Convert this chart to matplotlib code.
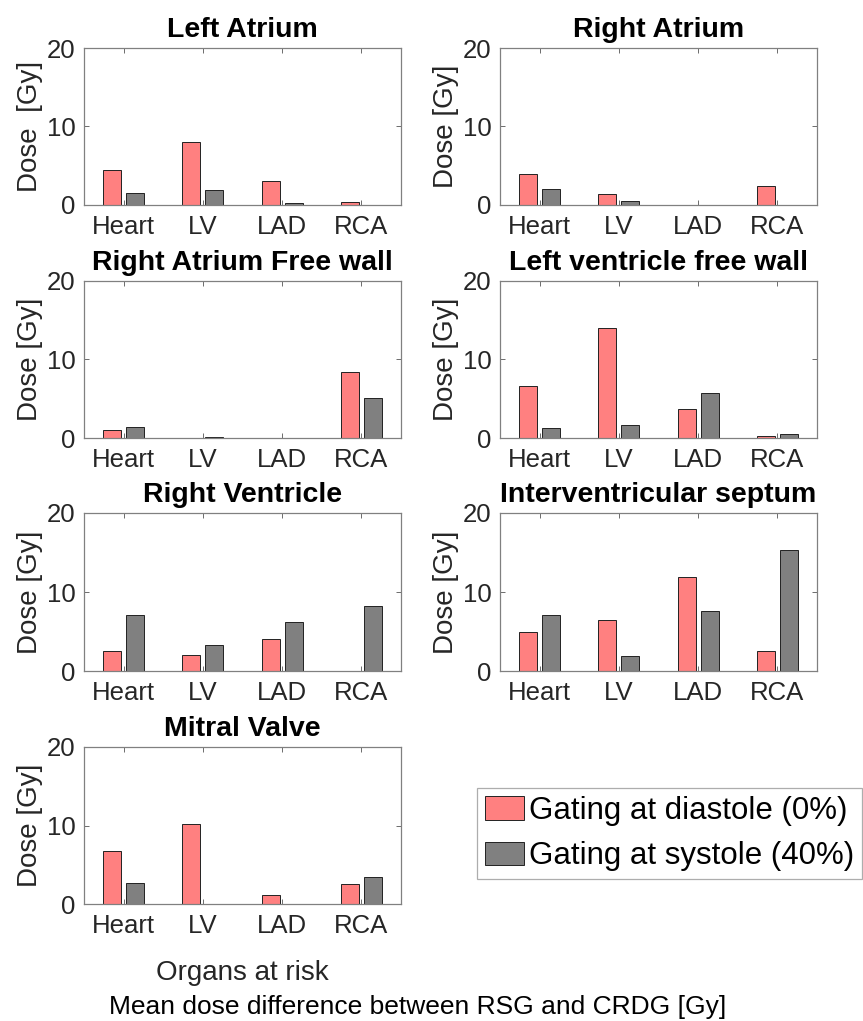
import numpy as np
import matplotlib
matplotlib.use("Agg")
import matplotlib.pyplot as plt

plt.rcParams['font.family'] = ['Liberation Sans', 'DejaVu Sans']

organs = ['Heart', 'LV', 'LAD', 'RCA']
titles = ['Left Atrium', 'Right Atrium', 'Right Atrium Free wall',
          'Left ventricle free wall', 'Right Ventricle',
          'Interventricular septum', 'Mitral Valve']
ylabels = ['Dose  [Gy]', 'Dose [Gy]', 'Dose [Gy]', 'Dose [Gy]',
           'Dose [Gy]', 'Dose [Gy]', 'Dose [Gy]']

# gating at diastole (0%)
dia_la = [4.5, 8.0, 3.0, 0.4]
dia_ra = [4.0, 1.45, 0.0, 2.45]
dia_rafw = [1.0, 0.0, 0.0, 8.4]
dia_lvfw = [6.6, 14.0, 3.65, 0.2]
dia_rv = [2.5, 2.05, 4.0, 0.0]
dia_ivs = [5.0, 6.5, 11.95, 2.5]
dia_mv = [6.7, 10.2, 1.2, 2.55]

# gating at systole (40%)
sys_la = [1.55, 1.9, 0.2, 0.0]
sys_ra = [2.1, 0.55, 0.0, 0.0]
sys_rafw = [1.45, 0.12, 0.0, 5.1]
sys_lvfw = [1.25, 1.6, 5.7, 0.45]
sys_rv = [7.15, 3.25, 6.25, 8.2]
sys_ivs = [7.15, 1.85, 7.55, 15.35]
sys_mv = [2.7, 0.0, 0.0, 3.5]

diastole = [dia_la, dia_ra, dia_rafw, dia_lvfw, dia_rv, dia_ivs, dia_mv]
systole = [sys_la, sys_ra, sys_rafw, sys_lvfw, sys_rv, sys_ivs, sys_mv]

W, H = 863, 1021
fig = plt.figure(figsize=(W / 100, H / 100), dpi=100)

# axes boxes in pixels (left, top, right, bottom)
col_x = [(84, 401), (500, 817)]
row_y = [(48, 205), (281, 438), (513, 671), (747, 904)]

red = '#ff8080'
grey = '#808080'
x = np.arange(1, 5)

axes = []
for i in range(7):
    r, c = divmod(i, 2)
    x0, x1 = col_x[c]
    y0, y1 = row_y[r]
    ax = fig.add_axes([x0 / W, 1 - y1 / H, (x1 - x0) / W, (y1 - y0) / H])
    ax.bar(x - 0.145, diastole[i], 0.23, color=red, edgecolor='#222222',
           linewidth=0.7, label='Gating at diastole (0%)')
    ax.bar(x + 0.145, systole[i], 0.23, color=grey, edgecolor='#222222',
           linewidth=0.7, label='Gating at systole (40%)')
    ax.set_xlim(0.5, 4.5)
    ax.set_ylim(0, 20)
    ax.set_xticks(x)
    ax.set_xticklabels(organs)
    ax.set_yticks([0, 10, 20])
    ax.tick_params(direction='in', top=True, right=True, length=3.5,
                   width=0.6, color='#555555', labelsize=18.5,
                   labelcolor='#262626')
    ax.tick_params(axis='x', pad=7)
    ax.tick_params(axis='y', pad=6)
    for s in ax.spines.values():
        s.set_color('#808080')
        s.set_linewidth(0.9)
    ax.set_title(titles[i], fontsize=20.5, fontweight='bold', pad=8)
    ax.set_ylabel(ylabels[i], fontsize=20, color='#262626')
    ax.yaxis.set_label_coords(-0.13, 0.5)
    axes.append(ax)

axes[6].set_xlabel('Organs at risk', fontsize=20, color='#262626', labelpad=16)

fig.text(418 / W, 1 - 1014 / H, 'Mean dose difference between RSG and CRDG [Gy]',
         fontsize=19, ha='center', va='baseline', color='black')

h, l = axes[0].get_legend_handles_labels()
leg = fig.legend(h, l, loc='upper right', bbox_to_anchor=(862 / W, 1 - 788 / H),
                 borderaxespad=0, fontsize=22.5, frameon=True, fancybox=False,
                 handlelength=1.25, handleheight=0.78, handletextpad=0.15,
                 labelspacing=0.5, borderpad=0.25)
leg.get_frame().set_edgecolor('#999999')
leg.get_frame().set_linewidth(0.9)

fig.savefig('out.png', dpi=100)
